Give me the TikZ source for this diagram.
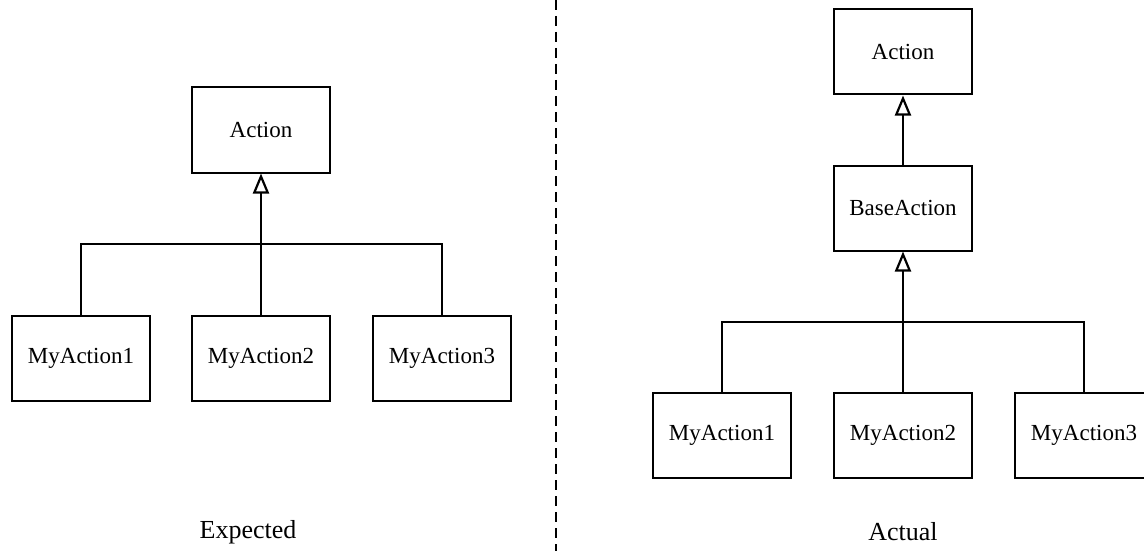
\documentclass[tikz,border=0pt]{standalone}
\usepackage{fontspec}
\setmainfont{Liberation Serif}
\usetikzlibrary{arrows.meta}
\begin{document}
\begin{tikzpicture}[x=1pt,y=-1pt,
  cls/.style={draw, line width=2pt, minimum width=138pt, minimum height=85pt, inner sep=0pt, font=\fontsize{23}{27}\selectfont, fill=white},
  link/.style={line width=2pt},
  inh/.style={line width=2pt, -{Triangle[open, width=16pt, length=20pt, line width=2.2pt]}},
  caption/.style={font=\fontsize{26}{30}\selectfont}]
\useasboundingbox (0,0) rectangle (1144,551);
\clip (0,0) rectangle (1144,551);
% divider
\coordinate (dtop) at (556,0);
\coordinate (dbot) at (556,551);
\draw[line width=1.6pt, dash pattern=on 10pt off 6pt] (dtop) -- (dbot);
% left: expected
\node[cls] (la) at (261,130) {Action};
\node[cls] (lm1) at (81,358) {MyAction1};
\node[cls] (lm2) at (261,358) {MyAction2};
\node[cls] (lm3) at (442,358) {MyAction3};
\coordinate (lj) at (261,244);
\draw[link] (lm1.north) |- (lj) -| (lm3.north);
\draw[inh] (lm2.north) -- (la.south);
\node[caption] (lcap) at (248,532) {Expected};
% right: actual
\node[cls] (ra) at (903,52) {Action};
\node[cls] (rb) at (903,208) {BaseAction};
\node[cls] (rm1) at (722,435) {MyAction1};
\node[cls] (rm2) at (903,435) {MyAction2};
\node[cls] (rm3) at (1084,435) {MyAction3};
\coordinate (rj) at (903,322);
\draw[link] (rm1.north) |- (rj) -| (rm3.north);
\draw[inh] (rm2.north) -- (rb.south);
\draw[inh] (rb.north) -- (ra.south);
\node[caption] (rcap) at (903,532) {Actual};
\end{tikzpicture}
\end{document}
